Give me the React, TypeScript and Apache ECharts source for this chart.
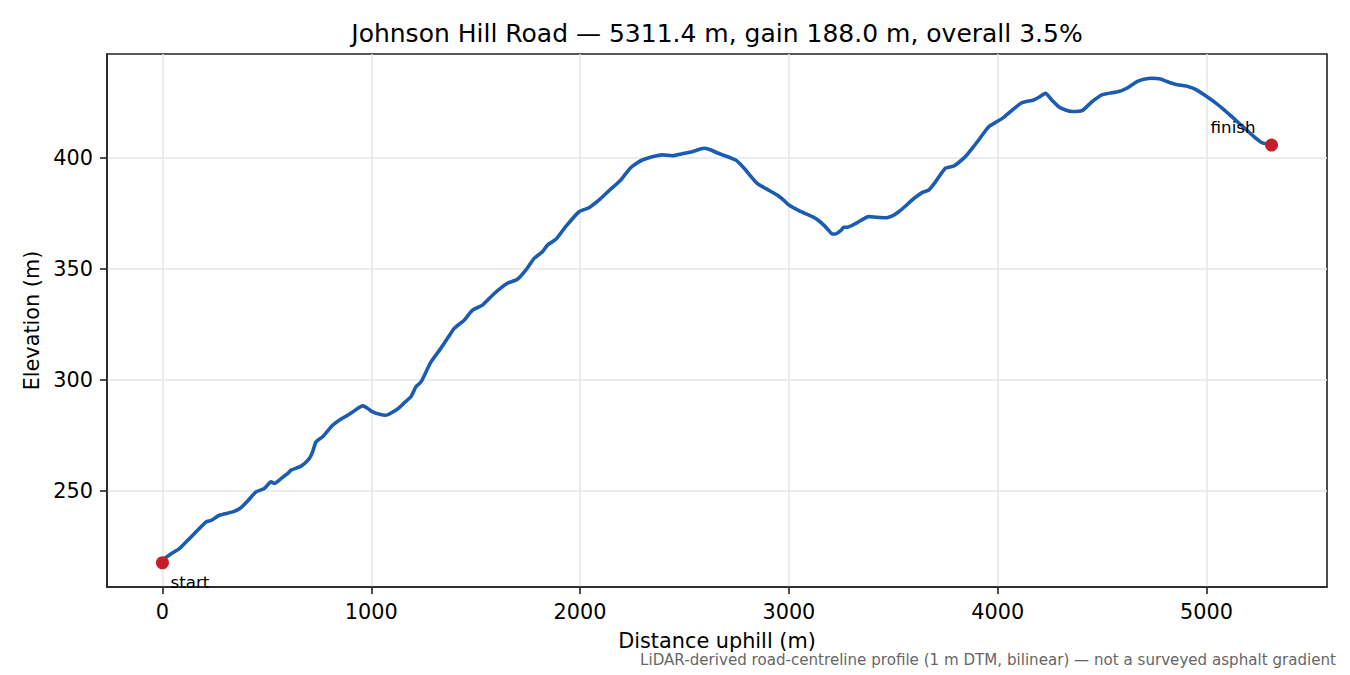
import { useEffect, useRef } from 'react';
import * as echarts from 'echarts';

// distance along the road (m) and elevation (m)
const distance = [
  0, 10, 40, 81, 121, 153, 180, 209, 233, 273, 336, 376, 408, 448, 488, 520, 536, 568, 600, 616,
  664, 703, 719, 735, 767, 815, 850, 887, 911, 959, 980, 1006, 1040, 1070, 1100, 1130, 1160, 1190,
  1214, 1238, 1286, 1333, 1370, 1397, 1445, 1485, 1533, 1589, 1652, 1700, 1740, 1780, 1820, 1844,
  1884, 1931, 1995, 2043, 2091, 2139, 2195, 2242, 2298, 2394, 2442, 2490, 2537, 2593, 2620, 2665,
  2745, 2770, 2793, 2820, 2848, 2888, 2944, 2975, 3000, 3048, 3112, 3140, 3167, 3190, 3207, 3223,
  3250, 3263, 3279, 3327, 3383, 3420, 3463, 3500, 3526, 3560, 3590, 3638, 3670, 3700, 3750, 3790,
  3845, 3875, 3909, 3957, 3997, 4029, 4070, 4117, 4172, 4200, 4228, 4260, 4292, 4325, 4356, 4404,
  4450, 4499, 4579, 4620, 4667, 4700, 4738, 4780, 4810, 4850, 4914, 4950, 4978, 5042, 5080, 5121,
  5160, 5201, 5235, 5265, 5311.4,
];
const elevation = [
  217.8, 219.7, 221.8, 224.2, 227.9, 231.0, 233.5, 236.2, 236.9, 239.2, 240.7, 242.6, 245.6, 249.7,
  251.2, 254.2, 253.5, 255.7, 258.0, 259.5, 261.3, 264.7, 267.7, 272.2, 274.5, 279.7, 282.2, 284.2,
  285.7, 288.4, 287.5, 285.7, 284.6, 284.2, 285.5, 287.3, 290.0, 292.5, 297.0, 299.2, 308.2, 314.3,
  319.5, 323.3, 327.0, 331.5, 333.8, 339.0, 343.6, 345.4, 349.5, 354.8, 357.8, 360.8, 363.4, 369.1,
  375.8, 377.6, 381.1, 385.3, 390.1, 395.6, 399.1, 401.4, 401.0, 401.9, 402.8, 404.4, 403.8, 402.0,
  399.1, 397.0, 394.6, 391.5, 388.6, 386.3, 383.3, 381.0, 378.8, 376.3, 373.6, 372.0, 369.8, 367.5,
  365.8, 365.8, 367.5, 368.8, 368.8, 370.9, 373.6, 373.3, 373.1, 374.2, 375.8, 378.5, 381.1, 384.4,
  385.6, 389.0, 395.4, 396.4, 400.6, 404.0, 408.1, 414.1, 416.4, 418.3, 421.6, 424.9, 426.1, 427.5,
  429.1, 426.0, 423.1, 421.6, 420.9, 421.3, 425.2, 428.4, 429.9, 431.5, 434.4, 435.4, 435.9, 435.5,
  434.4, 433.2, 432.1, 430.8, 429.1, 424.9, 422.0, 418.6, 415.3, 411.8, 409.0, 406.9, 405.8,
];

const xTicks = [0, 1000, 2000, 3000, 4000, 5000];
const yTicks = [250, 300, 350, 400];

const titleText = 'Johnson Hill Road — 5311.4 m, gain 188.0 m, overall 3.5%';
const footerText =
  'LiDAR-derived road-centreline profile (1 m DTM, bilinear) — not a surveyed asphalt gradient';

const FONT = '"DejaVu Sans", sans-serif';

export default function App() {
  const chartRef = useRef<HTMLDivElement>(null);

  useEffect(() => {
    if (!chartRef.current) return;
    const chart = echarts.init(chartRef.current, null, { renderer: 'svg' });

    const last = distance.length - 1;
    // matplotlib-like 5% margins
    const xSpan = distance[last] - distance[0];
    const yMin = Math.min(...elevation);
    const yMax = Math.max(...elevation);
    const ySpan = yMax - yMin;

    const axisCommon = {
      axisLine: { show: true, onZero: false, lineStyle: { color: '#222', width: 1.6 } },
      axisTick: { show: true, length: 7, lineStyle: { color: '#222', width: 1.6 } },
      splitLine: { show: true, lineStyle: { color: '#e6e6e6', width: 1.5 } },
      nameLocation: 'middle' as const,
      nameTextStyle: { fontFamily: FONT, fontSize: 20.8, color: '#000' },
    };

    const pointLabel = {
      show: true,
      position: 'inside',
      verticalAlign: 'middle',
      fontFamily: FONT,
      fontSize: 16.7,
      color: '#000',
    };

    chart.setOption({
      animation: false,
      grid: {
        left: 107,
        right: 23,
        top: 54,
        bottom: 88,
        show: true,
        borderColor: '#222',
        borderWidth: 1.6,
      },
      xAxis: {
        type: 'value',
        min: distance[0] - xSpan * 0.05,
        max: distance[last] + xSpan * 0.05,
        name: 'Distance uphill (m)',
        nameGap: 43,
        ...axisCommon,
        axisTick: { ...axisCommon.axisTick, customValues: xTicks },
        axisLabel: {
          customValues: xTicks,
          formatter: (v: number) => String(v),
          margin: 14,
          fontFamily: FONT,
          fontSize: 20.8,
          color: '#000',
        },
      },
      yAxis: {
        type: 'value',
        min: yMin - ySpan * 0.05,
        max: yMax + ySpan * 0.05,
        name: 'Elevation (m)',
        nameGap: 62,
        ...axisCommon,
        axisTick: { ...axisCommon.axisTick, customValues: yTicks },
        axisLabel: {
          customValues: yTicks,
          formatter: (v: number) => String(v),
          margin: 14,
          fontFamily: FONT,
          fontSize: 20.8,
          color: '#000',
        },
      },
      graphic: [
        {
          type: 'text',
          x: 717,
          y: 33,
          style: {
            text: titleText,
            textAlign: 'center',
            textVerticalAlign: 'middle',
            font: `25px ${FONT}`,
            fill: '#000',
          },
        },
        {
          type: 'text',
          x: 1336,
          y: 660,
          style: {
            text: footerText,
            textAlign: 'right',
            textVerticalAlign: 'middle',
            font: `15.1px ${FONT}`,
            fill: '#666',
          },
        },
      ],
      series: [
        {
          type: 'line',
          data: distance.map((d, i) => [d, elevation[i]]),
          showSymbol: false,
          smooth: 0.2,
          lineStyle: { color: '#1b5cb3', width: 3.6, join: 'round', cap: 'round' },
          z: 2,
        },
        {
          type: 'scatter',
          symbolSize: 13,
          itemStyle: { color: '#c41e2a', opacity: 1 },
          z: 3,
          data: [
            {
              value: [distance[0], elevation[0]],
              label: { ...pointLabel, formatter: 'start', align: 'left', offset: [8, 19] },
            },
            {
              value: [distance[last], elevation[last]],
              label: { ...pointLabel, formatter: 'finish', align: 'right', offset: [-16, -18] },
            },
          ],
        },
      ],
    });

    return () => {
      chart.dispose();
    };
  }, []);

  return (
    <div
      ref={chartRef}
      style={{ position: 'fixed', left: 0, top: 0, width: '1350px', height: '675px', background: '#fff' }}
    />
  );
}
